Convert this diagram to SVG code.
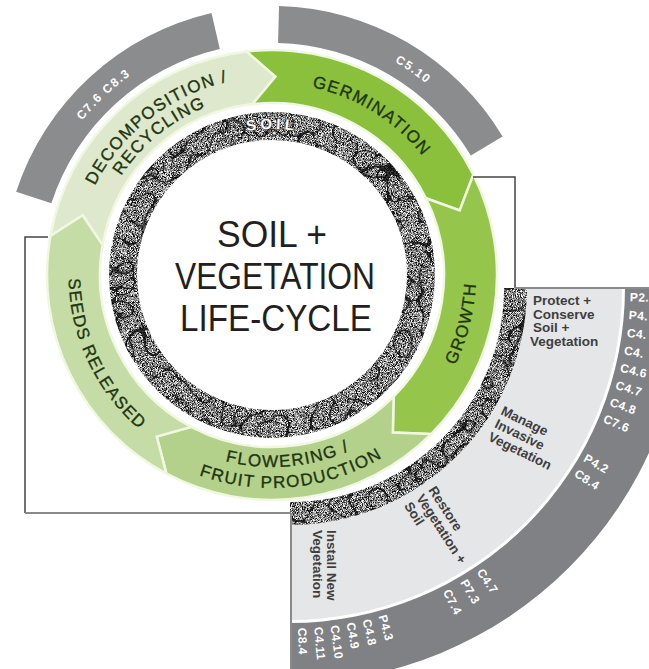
<svg xmlns="http://www.w3.org/2000/svg" width="649" height="669" viewBox="0 0 649 669">
<style>
.seg{stroke:#f1f8e2;stroke-width:2.5;stroke-linejoin:miter}
.lbl{font-family:"Liberation Sans",Arial,sans-serif;font-size:17px;fill:#1f3510;stroke:#1f3510;stroke-width:0.35px;text-anchor:middle;letter-spacing:1.4px}
.code{font-family:"Liberation Sans",Arial,sans-serif;font-size:12px;font-weight:bold;fill:#ffffff;letter-spacing:0.4px}
.arccode{font-family:"Liberation Sans",Arial,sans-serif;font-size:12px;font-weight:bold;fill:#ffffff;text-anchor:middle;letter-spacing:1.5px}
.qlbl{font-family:"Liberation Sans",Arial,sans-serif;font-size:13.5px;font-weight:bold;fill:#3e3e3e}
.title{font-family:"Liberation Sans",Arial,sans-serif;font-size:37px;fill:#231f20;text-anchor:middle}
.gray{fill:#8b8c8e}
.conn{fill:none;stroke:#444;stroke-width:1.5}
.conn2{fill:none;stroke:#8a8a8a;stroke-width:2}
</style>
<defs>
<filter id="soilTex" x="0" y="0" width="1" height="1" color-interpolation-filters="sRGB">
  <feTurbulence type="fractalNoise" baseFrequency="1.2" numOctaves="2" seed="4" result="n1"/>
  <feColorMatrix in="n1" type="matrix" values="1 0 0 0 0  1 0 0 0 0  1 0 0 0 0  0 0 0 0 1" result="g1"/>
  <feComponentTransfer in="g1" result="c1">
    <feFuncR type="linear" slope="2.6" intercept="-0.78"/>
    <feFuncG type="linear" slope="2.6" intercept="-0.78"/>
    <feFuncB type="linear" slope="2.6" intercept="-0.78"/>
  </feComponentTransfer>
  <feTurbulence type="turbulence" baseFrequency="0.045" numOctaves="1" seed="9" result="n2"/>
  <feColorMatrix in="n2" type="matrix" values="1 0 0 0 0  1 0 0 0 0  1 0 0 0 0  0 0 0 0 1" result="g2"/>
  <feComponentTransfer in="g2" result="v">
    <feFuncR type="linear" slope="14" intercept="0.25"/>
    <feFuncG type="linear" slope="14" intercept="0.25"/>
    <feFuncB type="linear" slope="14" intercept="0.25"/>
  </feComponentTransfer>
  <feComposite in="c1" in2="v" operator="arithmetic" k1="1" k2="0" k3="0" k4="0" result="m"/>
  <feComposite in="m" in2="SourceGraphic" operator="in"/>
</filter>
<path id="p-decomp1" d="M115.19,397.52 A199,199 0 0 1 428.81,152.48"/>
<path id="p-decomp2" d="M131.34,388.91 A181,181 0 0 1 412.66,161.09"/>
<path id="p-germ" d="M109.17,173.26 A192,192 0 0 1 434.83,376.74"/>
<path id="p-growth" d="M221.54,473.69 A205,205 0 0 0 322.46,76.31"/>
<path id="p-flow1" d="M80.73,291.73 A192,192 0 0 0 463.27,258.27"/>
<path id="p-flow2" d="M59.06,296.25 A214,214 0 0 0 484.94,253.75"/>
<path id="p-seeds" d="M185.03,91.02 A203.5,203.5 0 0 0 358.97,458.98"/>
<path id="p-c76" d="M92.09,442.77 A246,246 0 0 1 451.91,107.23"/>
<path id="p-c510" d="M69.26,135.66 A246,246 0 0 1 474.74,414.34"/>
<path id="p-soil" d="M126,275 A146,146 0 0 1 418,275"/>
</defs>

<rect x="0" y="0" width="649" height="669" fill="#ffffff"/>

<!-- management quadrant -->
<g id="quadrant">
  <path d="M685,288 A395,395 0 0 1 290,683 L290,623 A335,335 0 0 0 625,288 Z" fill="#808184"/>
  <path d="M622,288 A332,332 0 0 1 290,620 L290,525 A237,237 0 0 0 527,288 Z" fill="#e5e6e7"/>
  <path d="M527,288 A237,237 0 0 1 290,525 L290,502 A214,214 0 0 0 504,288 Z" fill="#555" filter="url(#soilTex)"/>
</g>

<!-- outer grey reference arcs -->
<g id="ref-arc-left">
  <path class="gray" d="M16.17,191.87 A269,269 0 0 1 211.49,12.89 L219.81,48.95 A232,232 0 0 0 51.35,203.31 Z"/>
  <text class="arccode"><textPath href="#p-c76" startOffset="50%">C7.6 C8.3</textPath></text>
</g>
<g id="ref-arc-right">
  <path class="gray" d="M279.04,6.09 A269,269 0 0 1 502.58,136.45 L470.86,155.51 A232,232 0 0 0 278.07,43.08 Z"/>
  <text class="arccode"><textPath href="#p-c510" startOffset="50%">C5.10</textPath></text>
</g>

<!-- cycle stages -->
<g id="stage-decomposition">
  <path class="seg" fill="#dde8cd" d="M50.42,235.93 A225,225 0 0 1 246.53,51.45 L275.46,76.53 L252.53,104.11 A172,172 0 0 0 102.61,245.13 L82.69,215.31 Z"/>
  <text class="lbl"><textPath href="#p-decomp1" startOffset="50%">DECOMPOSITION /</textPath></text>
  <text class="lbl"><textPath href="#p-decomp2" startOffset="50%">RECYCLING</textPath></text>
</g>
<g id="stage-germination">
  <path class="seg" fill="#8bc03d" d="M246.53,51.45 A225,225 0 0 1 473.36,174.60 L459.69,210.37 L425.93,198.25 A172,172 0 0 0 252.53,104.11 L275.46,76.53 Z"/>
  <text class="lbl"><textPath href="#p-germ" startOffset="50%">GERMINATION</textPath></text>
</g>
<g id="stage-growth">
  <path class="seg" fill="#95c54a" d="M473.36,174.60 A225,225 0 0 1 431.10,434.10 L392.84,432.48 L393.62,396.62 A172,172 0 0 0 425.93,198.25 L459.69,210.37 Z"/>
  <text class="lbl"><textPath href="#p-growth" startOffset="50%">GROWTH</textPath></text>
</g>
<g id="stage-flowering">
  <path class="seg" fill="#b3d18b" d="M431.10,434.10 A225,225 0 0 1 166.37,473.66 L156.73,436.60 L191.25,426.87 A172,172 0 0 0 393.62,396.62 L392.84,432.48 Z"/>
  <text class="lbl"><textPath href="#p-flow1" startOffset="50%">FLOWERING /</textPath></text>
  <text class="lbl"><textPath href="#p-flow2" startOffset="50%">FRUIT PRODUCTION</textPath></text>
</g>
<g id="stage-seeds">
  <path class="seg" fill="#c6dca7" d="M166.37,473.66 A225,225 0 0 1 50.42,235.93 L82.69,215.31 L102.61,245.13 A172,172 0 0 0 191.25,426.87 L156.73,436.60 Z"/>
  <text class="lbl"><textPath href="#p-seeds" startOffset="50%">SEEDS RELEASED</textPath></text>
</g>

<!-- soil ring and centre -->
<g id="soil-ring">
  <path fill="#555" fill-rule="evenodd" filter="url(#soilTex)" d="M109,275 A163,163 0 1 1 435,275 A163,163 0 1 1 109,275 Z M137,275 A135,135 0 1 0 407,275 A135,135 0 1 0 137,275 Z"/>
  <text font-family="Liberation Sans, Arial, sans-serif" font-size="15" font-weight="bold" fill="#ffffff" stroke="#3a3a3a" stroke-width="1" paint-order="stroke" text-anchor="middle" letter-spacing="4"><textPath href="#p-soil" startOffset="50%">SOIL</textPath></text>
</g>
<g id="centre">
  <text class="title" x="272" y="247" textLength="110" lengthAdjust="spacingAndGlyphs">SOIL +</text>
  <text class="title" x="275" y="289" textLength="200" lengthAdjust="spacingAndGlyphs">VEGETATION</text>
  <text class="title" x="276" y="331" textLength="192" lengthAdjust="spacingAndGlyphs">LIFE-CYCLE</text>
</g>

<!-- connectors (brackets) -->
<g id="connectors">
  <polyline class="conn" points="473,177 515,177 515,288"/>
  <line class="conn2" x1="515" y1="288" x2="649" y2="288"/>
  <polyline class="conn" points="48,237 25,237 25,513"/>
  <line class="conn2" x1="25" y1="513" x2="291" y2="513"/>
  <line class="conn2" x1="291" y1="513" x2="291" y2="669"/>
</g>

<!-- quadrant labels -->
<g id="action-protect">
  <text class="qlbl" x="533" y="305">Protect +</text>
  <text class="qlbl" x="533" y="318.5">Conserve</text>
  <text class="qlbl" x="533" y="332">Soil +</text>
  <text class="qlbl" x="530" y="345.5">Vegetation</text>
</g>
<g id="action-manage" transform="translate(500,414) rotate(26)">
  <text class="qlbl" x="0" y="0">Manage</text>
  <text class="qlbl" x="0" y="14.5">Invasive</text>
  <text class="qlbl" x="0" y="29">Vegetation</text>
</g>
<g id="action-restore" transform="translate(428,490) rotate(57)">
  <text class="qlbl" x="0" y="0">Restore</text>
  <text class="qlbl" x="0" y="14.5">Vegetation +</text>
  <text class="qlbl" x="0" y="29">Soil</text>
</g>
<g id="action-install" transform="translate(327,530) rotate(90)">
  <text class="qlbl" x="0" y="0">Install New</text>
  <text class="qlbl" x="0" y="14">Vegetation</text>
</g>

<!-- reference codes -->
<g id="codes-protect">
  <text class="code" transform="translate(629.9,296.9) rotate(1.5)" dy="4.3">P2.</text>
  <text class="code" transform="translate(628.9,314.7) rotate(4.5)" dy="4.3">P4.</text>
  <text class="code" transform="translate(627.1,332.4) rotate(7.5)" dy="4.3">C4.</text>
  <text class="code" transform="translate(624.3,350.0) rotate(10.5)" dy="4.3">C4.</text>
  <text class="code" transform="translate(620.6,367.4) rotate(13.5)" dy="4.3">C4.6</text>
  <text class="code" transform="translate(616.0,384.6) rotate(16.5)" dy="4.3">C4.7</text>
  <text class="code" transform="translate(610.5,401.5) rotate(19.5)" dy="4.3">C4.8</text>
  <text class="code" transform="translate(604.1,418.1) rotate(22.5)" dy="4.3">C7.6</text>
</g>
<g id="codes-manage">
  <text class="code" transform="translate(585.0,457.0) rotate(29.8)" dy="4.3">P4.2</text>
  <text class="code" transform="translate(575.8,472.2) rotate(32.8)" dy="4.3">C8.4</text>
</g>
<g id="codes-restore">
  <text class="code" transform="translate(480.1,569.9) rotate(56)" dy="4.3">C4.7</text>
  <text class="code" transform="translate(463.6,580.3) rotate(59.3)" dy="4.3">P7.3</text>
  <text class="code" transform="translate(446.5,589.9) rotate(62.6)" dy="4.3">C7.4</text>
</g>
<g id="codes-install">
  <text class="code" transform="translate(382.6,615.2) rotate(74.2)" dy="4.3">P4.3</text>
  <text class="code" transform="translate(366.8,619.2) rotate(76.95)" dy="4.3">C4.8</text>
  <text class="code" transform="translate(350.8,622.5) rotate(79.7)" dy="4.3">C4.9</text>
  <text class="code" transform="translate(334.7,625.1) rotate(82.45)" dy="4.3">C4.10</text>
  <text class="code" transform="translate(318.5,626.8) rotate(85.2)" dy="4.3">C4.11</text>
  <text class="code" transform="translate(302.2,627.8) rotate(87.95)" dy="4.3">C8.4</text>
</g>
</svg>
